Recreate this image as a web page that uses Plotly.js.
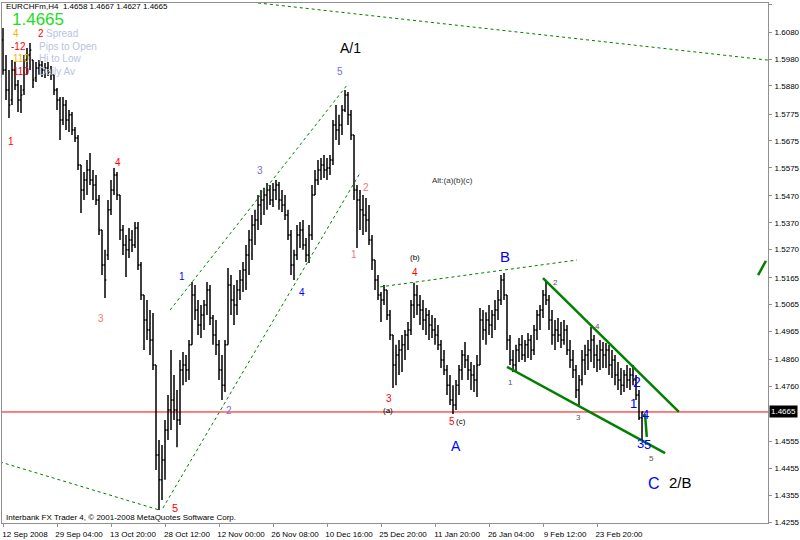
<!DOCTYPE html>
<html><head><meta charset="utf-8">
<script src="https://cdn.plot.ly/plotly-3.0.1.min.js"></script>
<style>html,body{margin:0;padding:0;background:#fff}#chart{width:800px;height:540px}</style>
</head><body><div id="chart"></div>
<script>
// ---- EURCHFm H4 price bars (aggregated) ----
const open = [
1.6051,1.5939,1.5865,1.5827,1.5939,1.5883,1.5827,1.5865,1.5976,1.5995,
1.5976,1.5909,1.5947,1.5958,1.5939,1.5947,1.5932,1.5921,1.5865,1.5827,
1.5753,1.5809,1.5753,1.5772,1.5716,1.5686,1.5585,1.5492,1.5529,1.5567,
1.5529,1.5511,1.5455,1.5343,1.5213,1.5250,1.5418,1.5492,1.5548,1.5473,
1.5343,1.5287,1.5269,1.5306,1.5287,1.5350,1.5213,1.5101,1.5008,1.4970,
1.4933,1.4840,1.4505,1.4412,1.4486,1.4598,1.4672,1.4710,1.4672,1.4635,
1.4821,1.4840,1.4821,1.4915,1.5101,1.5045,1.4989,1.5026,1.5064,1.5119,
1.5015,1.4952,1.4915,1.4821,1.4765,1.4915,1.5138,1.5082,1.5064,1.5119,
1.5157,1.5194,1.5250,1.5306,1.5362,1.5380,1.5436,1.5455,1.5473,1.5492,
1.5455,1.5492,1.5511,1.5455,1.5436,1.5399,1.5324,1.5213,1.5250,1.5324,
1.5343,1.5287,1.5250,1.5324,1.5473,1.5529,1.5567,1.5585,1.5567,1.5574,
1.5604,1.5734,1.5716,1.5734,1.5790,1.5846,1.5772,1.5697,1.5492,1.5455,
1.5418,1.5399,1.5380,1.5306,1.5231,1.5157,1.5101,1.5082,1.5119,1.5026,
1.4952,1.4840,1.4877,1.4896,1.4915,1.4952,1.4970,1.5064,1.5101,1.5064,
1.5045,1.5008,1.5026,1.4989,1.4970,1.4952,1.4915,1.4859,1.4821,1.4765,
1.4710,1.4691,1.4765,1.4821,1.4877,1.4859,1.4821,1.4803,1.4784,1.4840,
1.5008,1.4970,1.5008,1.4989,1.5026,1.5045,1.5082,1.5157,1.5101,1.4933,
1.4859,1.4840,1.4896,1.4915,1.4877,1.4915,1.4933,1.4896,1.4970,1.5026,
1.5045,1.5101,1.5082,1.5008,1.4952,1.4970,1.4952,1.4933,1.4970,1.4896,
1.4859,1.4821,1.4747,1.4784,1.4859,1.4877,1.4896,1.4933,1.4877,1.4859,
1.4896,1.4877,1.4896,1.4840,1.4859,1.4803,1.4784,1.4765,1.4803,1.4784,
1.4803,1.4784,1.4728,1.4643
];
const high = [
1.6096,1.5995,1.5939,1.5976,1.5969,1.5902,1.5883,1.5995,1.6021,1.6040,
1.5976,1.5969,1.5976,1.5973,1.5965,1.5969,1.5954,1.5921,1.5872,1.5839,
1.5839,1.5827,1.5790,1.5783,1.5727,1.5697,1.5585,1.5559,1.5604,1.5630,
1.5567,1.5548,1.5473,1.5343,1.5269,1.5455,1.5529,1.5574,1.5559,1.5473,
1.5362,1.5324,1.5350,1.5343,1.5373,1.5373,1.5224,1.5101,1.5082,1.5045,
1.5034,1.4840,1.4561,1.4542,1.4635,1.4728,1.4896,1.4803,1.4747,1.4859,
1.4888,1.4877,1.4933,1.5149,1.5138,1.5082,1.5064,1.5082,1.5149,1.5138,
1.5026,1.5008,1.4933,1.4877,1.4933,1.5201,1.5175,1.5138,1.5157,1.5194,
1.5224,1.5287,1.5343,1.5399,1.5418,1.5473,1.5492,1.5500,1.5518,1.5511,
1.5518,1.5529,1.5522,1.5492,1.5473,1.5418,1.5343,1.5269,1.5362,1.5373,
1.5380,1.5313,1.5362,1.5511,1.5567,1.5604,1.5611,1.5622,1.5611,1.5622,
1.5753,1.5809,1.5772,1.5809,1.5865,1.5857,1.5790,1.5697,1.5511,1.5492,
1.5473,1.5462,1.5436,1.5324,1.5231,1.5175,1.5112,1.5138,1.5119,1.5045,
1.4952,1.4915,1.4933,1.4952,1.4970,1.5000,1.5082,1.5146,1.5138,1.5101,
1.5082,1.5052,1.5045,1.5026,1.5015,1.4989,1.4933,1.4896,1.4840,1.4803,
1.4765,1.4784,1.4840,1.4896,1.4926,1.4877,1.4851,1.4840,1.4877,1.5052,
1.5045,1.5037,1.5064,1.5045,1.5082,1.5119,1.5175,1.5183,1.5101,1.4952,
1.4896,1.4915,1.4941,1.4952,1.4933,1.4959,1.4952,1.4989,1.5045,1.5064,
1.5119,1.5149,1.5101,1.5045,1.5008,1.5015,1.5000,1.5008,1.4989,1.4933,
1.4896,1.4840,1.4803,1.4896,1.4915,1.4933,1.4982,1.4952,1.4915,1.4933,
1.4926,1.4922,1.4915,1.4896,1.4877,1.4851,1.4829,1.4821,1.4840,1.4829,
1.4840,1.4803,1.4747,1.4667
];
const low = [
1.5921,1.5827,1.5760,1.5809,1.5865,1.5783,1.5779,1.5846,1.5921,1.5939,
1.5872,1.5894,1.5921,1.5913,1.5909,1.5917,1.5902,1.5846,1.5790,1.5678,
1.5734,1.5716,1.5708,1.5697,1.5671,1.5567,1.5406,1.5455,1.5473,1.5511,
1.5455,1.5436,1.5324,1.5175,1.5090,1.5231,1.5399,1.5473,1.5455,1.5306,
1.5250,1.5168,1.5239,1.5261,1.5276,1.5194,1.5082,1.4896,1.4933,1.4877,
1.4821,1.4449,1.4300,1.4337,1.4412,1.4561,1.4598,1.4635,1.4534,1.4616,
1.4765,1.4777,1.4784,1.4915,1.5008,1.4952,1.4941,1.4970,1.5026,1.4989,
1.4915,1.4877,1.4784,1.4710,1.4739,1.4915,1.5026,1.4989,1.5026,1.5082,
1.5112,1.5119,1.5175,1.5231,1.5287,1.5343,1.5362,1.5399,1.5418,1.5436,
1.5429,1.5455,1.5418,1.5410,1.5380,1.5306,1.5175,1.5157,1.5231,1.5276,
1.5269,1.5224,1.5220,1.5306,1.5473,1.5511,1.5529,1.5537,1.5529,1.5548,
1.5585,1.5678,1.5660,1.5697,1.5783,1.5734,1.5678,1.5455,1.5276,1.5343,
1.5324,1.5336,1.5287,1.5194,1.5119,1.5082,1.5000,1.5064,1.5008,1.4933,
1.4754,1.4765,1.4803,1.4814,1.4859,1.4896,1.4952,1.5015,1.5026,1.4989,
1.4970,1.4952,1.4933,1.4941,1.4915,1.4896,1.4829,1.4803,1.4728,1.4691,
1.4657,1.4672,1.4728,1.4784,1.4829,1.4784,1.4747,1.4739,1.4721,1.4840,
1.4933,1.4915,1.4952,1.4941,1.4970,1.5008,1.5064,1.5082,1.4896,1.4840,
1.4814,1.4814,1.4851,1.4859,1.4851,1.4866,1.4859,1.4877,1.4933,1.4970,
1.5015,1.5064,1.4970,1.4915,1.4896,1.4926,1.4903,1.4915,1.4877,1.4829,
1.4792,1.4717,1.4691,1.4765,1.4803,1.4821,1.4851,1.4829,1.4814,1.4821,
1.4829,1.4829,1.4803,1.4792,1.4765,1.4747,1.4728,1.4739,1.4754,1.4747,
1.4765,1.4710,1.4635,1.4561
];
const close = [
1.5939,1.5865,1.5809,1.5939,1.5883,1.5827,1.5846,1.5976,1.5995,1.6014,
1.5902,1.5947,1.5958,1.5939,1.5947,1.5932,1.5921,1.5865,1.5827,1.5753,
1.5809,1.5753,1.5772,1.5716,1.5686,1.5585,1.5492,1.5529,1.5567,1.5529,
1.5511,1.5455,1.5343,1.5213,1.5157,1.5418,1.5492,1.5548,1.5473,1.5343,
1.5287,1.5269,1.5306,1.5287,1.5350,1.5213,1.5101,1.5008,1.4970,1.4933,
1.4840,1.4505,1.4412,1.4486,1.4598,1.4672,1.4710,1.4672,1.4635,1.4821,
1.4840,1.4821,1.4915,1.5101,1.5045,1.4989,1.5026,1.5064,1.5119,1.5015,
1.4952,1.4915,1.4821,1.4765,1.4915,1.5138,1.5082,1.5064,1.5119,1.5157,
1.5194,1.5250,1.5306,1.5362,1.5380,1.5436,1.5455,1.5473,1.5492,1.5455,
1.5492,1.5511,1.5455,1.5436,1.5399,1.5324,1.5213,1.5250,1.5324,1.5343,
1.5287,1.5250,1.5324,1.5473,1.5529,1.5567,1.5585,1.5567,1.5574,1.5604,
1.5734,1.5716,1.5734,1.5790,1.5846,1.5772,1.5697,1.5492,1.5455,1.5418,
1.5399,1.5380,1.5306,1.5231,1.5157,1.5101,1.5082,1.5119,1.5026,1.4952,
1.4840,1.4877,1.4896,1.4915,1.4952,1.4970,1.5064,1.5101,1.5064,1.5045,
1.5008,1.5026,1.4989,1.4970,1.4952,1.4915,1.4859,1.4821,1.4765,1.4710,
1.4691,1.4765,1.4821,1.4877,1.4859,1.4821,1.4803,1.4784,1.4840,1.5008,
1.4970,1.5008,1.4989,1.5026,1.5045,1.5082,1.5157,1.5101,1.4933,1.4859,
1.4840,1.4896,1.4915,1.4877,1.4915,1.4933,1.4896,1.4970,1.5026,1.5045,
1.5101,1.5082,1.5008,1.4952,1.4970,1.4952,1.4933,1.4970,1.4896,1.4859,
1.4821,1.4747,1.4784,1.4859,1.4877,1.4896,1.4933,1.4877,1.4859,1.4896,
1.4877,1.4896,1.4840,1.4859,1.4803,1.4784,1.4765,1.4803,1.4784,1.4803,
1.4784,1.4728,1.4643,1.4665
];

// ---- axis labels ----
const timeTickBars = [0, 18, 36, 54, 72, 90, 108, 126, 144, 162, 180, 198];
const timeTickLabels = ['12 Sep 2008','29 Sep 04:00','13 Oct 20:00','28 Oct 12:00','12 Nov 00:00',
  '26 Nov 08:00','10 Dec 16:00','25 Dec 20:00','11 Jan 20:00','26 Jan 04:00','9 Feb 12:00','23 Feb 20:00'];
const priceTicks = [1.6185,1.6080,1.5980,1.5880,1.5775,1.5675,1.5575,1.5470,1.5370,1.5270,
  1.5165,1.5065,1.4965,1.4860,1.4760,1.4555,1.4455,1.4355,1.4255];
const currentPrice = 1.4665;

// ---- drawn trend lines (bar index / price) ----
const lowerLeftX = [-1, 52], lowerLeftY = [1.4479, 1.4300];
const topLineX = [85, 255], topLineY = [1.6189, 1.5976];
const channelLowX = [53.3, 119], channelLowY = [1.4307, 1.5555];
const channelUpX = [55.7, 114.7], channelUpY = [1.5045, 1.5883];
const bLineX = [125.7, 191.3], bLineY = [1.5131, 1.5231];
const wedgeUpX = [180, 225.3], wedgeUpY = [1.5164, 1.4665];
const wedgeLowX = [168, 220.7], wedgeLowY = [1.4833, 1.4512];
const rightStubX = [251.7, 254.3], rightStubY = [1.5175, 1.5228];
const lastStubX = [214, 214.6], lastStubY = [1.4657, 1.4572];

// ---- wave labels ----
const waveText  = ['1','4','3','5','1','2','3','4','5','2','1','3','4','5','(a)','(c)','(b)',
  '1','2','3','4','5','2','1','4','3','5','A/1','Alt:(a)(b)(c)','B','A','C','2/B'];
const waveBar   = [2.7,38.3,32.7,57.3,59.7,75.3,85.7,99.7,112.3,121,117,128.7,137.3,149.7,128.3,152.7,137.3,
  169.3,184.3,191.7,198,216,211.3,210.3,214,212.6,214.9,115.7,149.7,167.3,151,217,225.7];
const wavePrice = [1.5671,1.5593,1.5015,1.4307,1.5168,1.4669,1.5563,1.5112,1.5935,1.5503,1.5250,1.4717,1.5183,1.4631,1.4672,1.4631,1.5242,
  1.4773,1.5149,1.4646,1.4985,1.4493,1.4777,1.4698,1.4657,1.4549,1.4545,1.6021,1.5529,1.5246,1.4538,1.4400,1.4404];
const RED='#ff0000', SAL='#f07878', BLU='#0000ff', SLB='#7070e0', GRY='#555555', BLK='#000000';
const waveColor = [RED,RED,SAL,RED,BLU,SLB,SLB,BLU,SLB,SAL,SAL,RED,RED,RED,BLK,BLK,BLK,
  GRY,GRY,GRY,GRY,GRY,BLU,BLU,BLU,BLU,BLU,BLK,'#333333',BLU,BLU,BLU,BLK];
const waveSize  = [10,10,10,11,10,10,10,10,10,10,10,10,10,10,8,8,8,
  8,8,8,8,8,14,13,13,13,13,14,8,15,14,16,15];

const FONT = 'Liberation Sans, Arial, sans-serif';
const barIndex = open.map((_, i) => i);

function seg(x, y, width, dash, color) {
  return {type:'scatter', mode:'lines', x:x, y:y, hoverinfo:'skip', showlegend:false,
    line:{color:color || '#008000', width:width, dash:dash}, cliponaxis:true};
}

const traces = [
  {type:'ohlc', x:barIndex, open:open, high:high, low:low, close:close,
   increasing:{line:{color:'#000000', width:1.5}}, decreasing:{line:{color:'#000000', width:1.5}},
   tickwidth:0.45, hoverinfo:'none', showlegend:false},
  seg(lowerLeftX, lowerLeftY, 1, 'dot'),
  seg(topLineX, topLineY, 1, 'dot'),
  seg(channelLowX, channelLowY, 1, 'dot'),
  seg(channelUpX, channelUpY, 1, 'dot'),
  seg(bLineX, bLineY, 1, 'dot'),
  seg(wedgeUpX, wedgeUpY, 2.5, 'solid'),
  seg(wedgeLowX, wedgeLowY, 2.5, 'solid'),
  seg(rightStubX, rightStubY, 2.5, 'solid'),
  seg(lastStubX, lastStubY, 2.5, 'solid')
];

const annotations = waveText.map((t, i) => ({
  x: waveBar[i], y: wavePrice[i], xref:'x', yref:'y', text:t, showarrow:false,
  xanchor:'center', yanchor:'middle', font:{family:FONT, size:waveSize[i], color:waveColor[i]}
}));

function px(xp, yp, text, size, color, extra) {
  return Object.assign({xref:'paper', yref:'paper', x:(xp-2)/766, y:(523-yp)/520, text:text,
    showarrow:false, xanchor:'left', yanchor:'middle', font:{family:FONT, size:size, color:color}}, extra || {});
}
annotations.push(
  px(4, 7, 'EURCHFm,H4  1.4658 1.4667 1.4627 1.4665', 8, '#000'),
  px(10, 20, '1.4665', 17, '#22dd22'),
  px(44, 33, 'Spread', 10, '#b8c4e0'),
  px(37, 46, 'Pips to Open', 10, '#b8c4e0'),
  px(37, 59, 'Hi to Low', 10, '#b8c4e0'),
  px(37, 72, 'Daily Av', 10, '#b8c4e0'),
  px(11, 33, '4', 10, '#ffb000'),
  px(36, 33, '2', 10, '#ff0000'),
  px(9, 46, '-12', 10, '#ff0000'),
  px(11, 59, '110', 10, '#ffb000'),
  px(11, 72, '110', 10, '#ff0000'),
  px(4, 517, 'Interbank FX Trader 4, \u00a9 2001-2008 MetaQuotes Software Corp.', 8, '#000'),
  {xref:'paper', yref:'y', x:1, xshift:1, y:currentPrice, xanchor:'left', yanchor:'middle',
   text:'1.4665', showarrow:false, bgcolor:'#000000', borderpad:1,
   font:{family:FONT, size:8, color:'#ffffff'}}
);

const layout = {
  width:800, height:540, margin:{l:2, r:32, t:3, b:17},
  paper_bgcolor:'#ffffff', plot_bgcolor:'#ffffff', showlegend:false, dragmode:false,
  xaxis:{range:[-0.333, 255], showgrid:false, zeroline:false, showline:true, mirror:true,
    linecolor:'#909090', linewidth:1, ticks:'outside', ticklen:3, tickcolor:'#909090',
    tickvals:timeTickBars, ticktext:timeTickLabels, tickfont:{family:FONT, size:8, color:'#000'},
    ticklabelshift:22, ticklabelstandoff:0, rangeslider:{visible:false}, fixedrange:true},
  yaxis:{range:[1.42513, 1.61888], side:'right', showgrid:false, zeroline:false, showline:true, mirror:true,
    linecolor:'#909090', linewidth:1, ticks:'outside', ticklen:3, tickcolor:'#909090',
    tickvals:priceTicks, ticktext:priceTicks.map(v => v.toFixed(4)),
    tickfont:{family:FONT, size:8, color:'#000'}, ticklabelstandoff:1, fixedrange:true},
  shapes:[{type:'line', xref:'paper', x0:0, x1:1, yref:'y', y0:currentPrice, y1:currentPrice,
    line:{color:'#ff0000', width:1}, layer:'below'}],
  annotations:annotations
};

Plotly.newPlot('chart', traces, layout, {staticPlot:true, displayModeBar:false});
</script>
</body></html>
